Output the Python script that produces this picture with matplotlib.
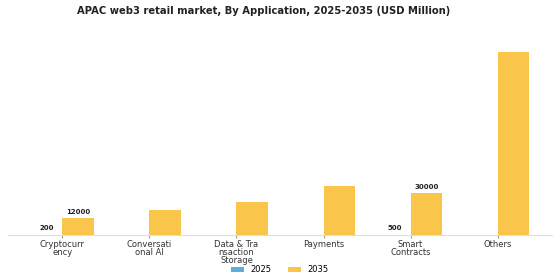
import numpy as np
import matplotlib.pyplot as plt

categories = ['Cryptocurr\nency', 'Conversati\nonal AI', 'Data & Tra\nnsaction\nStorage',
              'Payments', 'Smart\nContracts', 'Others']
values_2025 = [200, 300, 400, 500, 500, 300]
values_2035 = [12000, 18000, 24000, 35500, 30000, 131000]
labels_2025 = ['200', '', '', '', '500', '']
labels_2035 = ['12000', '', '', '', '30000', '']

fig, ax = plt.subplots(figsize=(5.6, 2.8), dpi=100)
x = np.arange(len(categories))
w = 0.36

b1 = ax.bar(x - w / 2, values_2025, w, color='#5DADE2', label='2025')
b2 = ax.bar(x + w / 2, values_2035, w, color='#F9C54A', label='2035')

for bars, labs in [(b1, labels_2025), (b2, labels_2035)]:
    for bar, lab in zip(bars, labs):
        if lab:
            ax.text(bar.get_x() + bar.get_width() / 2, bar.get_height() + 2500, lab,
                    ha='center', va='bottom', fontsize=5, fontweight='bold', color='#222222')

ax.set_xticks(x)
ax.set_xticklabels(categories, fontsize=6, color='#333333', linespacing=0.85)
ax.tick_params(axis='x', length=2, color='#999999', pad=1.5)
ax.set_yticks([])
ax.set_xlim(-0.62, 5.62)
ax.set_ylim(0, 140000)
for s in ['top', 'right', 'left']:
    ax.spines[s].set_visible(False)
ax.spines['bottom'].set_color('#dddddd')

fig.text(0.47, 1 - 11 / 280, 'APAC web3 retail market, By Application, 2025-2035 (USD Million)',
         ha='center', va='center', fontsize=7.2, fontweight='bold', color='#222222')
ax.legend(loc='upper center', bbox_to_anchor=(0.5, -0.115), ncol=2, frameon=False,
          fontsize=6, handlelength=1.5, handleheight=0.5, columnspacing=2.0)

plt.subplots_adjust(left=0.015, right=0.985, top=0.86, bottom=0.16)
fig.savefig('out.png', dpi=100)
